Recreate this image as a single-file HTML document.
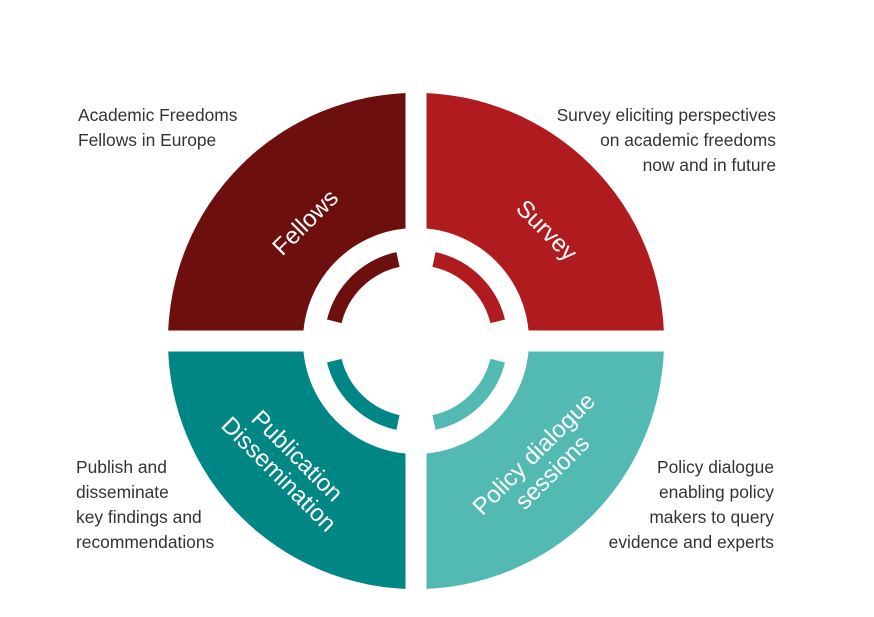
<!DOCTYPE html>
<html><head><meta charset="utf-8"><style>
html,body{margin:0;padding:0;background:#fff;}
svg{display:block}
.s{font-family:"Liberation Sans",sans-serif;font-size:17.4px;fill:#333;}
.w{font-family:"Liberation Sans",sans-serif;font-size:24px;fill:#fff;text-anchor:middle;}
</style></head><body>
<svg width="874" height="617" viewBox="0 0 874 617" xmlns="http://www.w3.org/2000/svg">
<defs>
<clipPath id="tl"><rect x="0" y="0" width="405.5" height="330.5"/></clipPath>
<clipPath id="tr"><rect x="426.5" y="0" width="500" height="330.5"/></clipPath>
<clipPath id="bl"><rect x="0" y="351.5" width="405.5" height="300"/></clipPath>
<clipPath id="br"><rect x="426.5" y="351.5" width="500" height="300"/></clipPath>
</defs>
<g fill-rule="evenodd">
<path clip-path="url(#tl)" fill="#6d0e0f" d="M168,341a248,248 0 1,0 496,0a248,248 0 1,0 -496,0ZM303,341a113,113 0 1,0 226,0a113,113 0 1,0 -226,0Z"/>
<path clip-path="url(#tr)" fill="#b01b1f" d="M168,341a248,248 0 1,0 496,0a248,248 0 1,0 -496,0ZM303,341a113,113 0 1,0 226,0a113,113 0 1,0 -226,0Z"/>
<path clip-path="url(#bl)" fill="#008685" d="M168,341a248,248 0 1,0 496,0a248,248 0 1,0 -496,0ZM303,341a113,113 0 1,0 226,0a113,113 0 1,0 -226,0Z"/>
<path clip-path="url(#br)" fill="#52bab3" d="M168,341a248,248 0 1,0 496,0a248,248 0 1,0 -496,0ZM303,341a113,113 0 1,0 226,0a113,113 0 1,0 -226,0Z"/>
</g>
<g fill="none" stroke-width="15">
<path stroke="#6d0e0f" d="M334.3,321.3A83.5,83.5 0 0 1 398,259.5"/>
<path stroke="#b01b1f" d="M434,259.5A83.5,83.5 0 0 1 497.7,321.3"/>
<path stroke="#008685" d="M334.3,360.7A83.5,83.5 0 0 0 398,422.5"/>
<path stroke="#52bab3" d="M434,422.5A83.5,83.5 0 0 0 497.7,360.7"/>
</g>
<text class="w" transform="translate(311,228) rotate(-45)">Fellows</text>
<text class="w" transform="translate(541,236) rotate(45)">Survey</text>
<g transform="translate(288,465) rotate(45)"><text class="w" y="-5">Publication</text><text class="w" y="21">Dissemination</text></g>
<g transform="translate(543,463) rotate(-45)"><text class="w" y="-5">Policy dialogue</text><text class="w" y="21">sessions</text></g>
<text class="s" x="78" y="121">Academic Freedoms</text>
<text class="s" x="78" y="146">Fellows in Europe</text>
<g text-anchor="end">
<text class="s" x="776" y="121">Survey eliciting perspectives</text>
<text class="s" x="776" y="146">on academic freedoms</text>
<text class="s" x="776" y="171">now and in future</text>
<text class="s" x="774" y="473">Policy dialogue</text>
<text class="s" x="774" y="498">enabling policy</text>
<text class="s" x="774" y="523">makers to query</text>
<text class="s" x="774" y="548">evidence and experts</text>
</g>
<text class="s" x="76" y="473">Publish and</text>
<text class="s" x="76" y="498">disseminate</text>
<text class="s" x="76" y="523">key findings and</text>
<text class="s" x="76" y="548">recommendations</text>
</svg>
</body></html>
